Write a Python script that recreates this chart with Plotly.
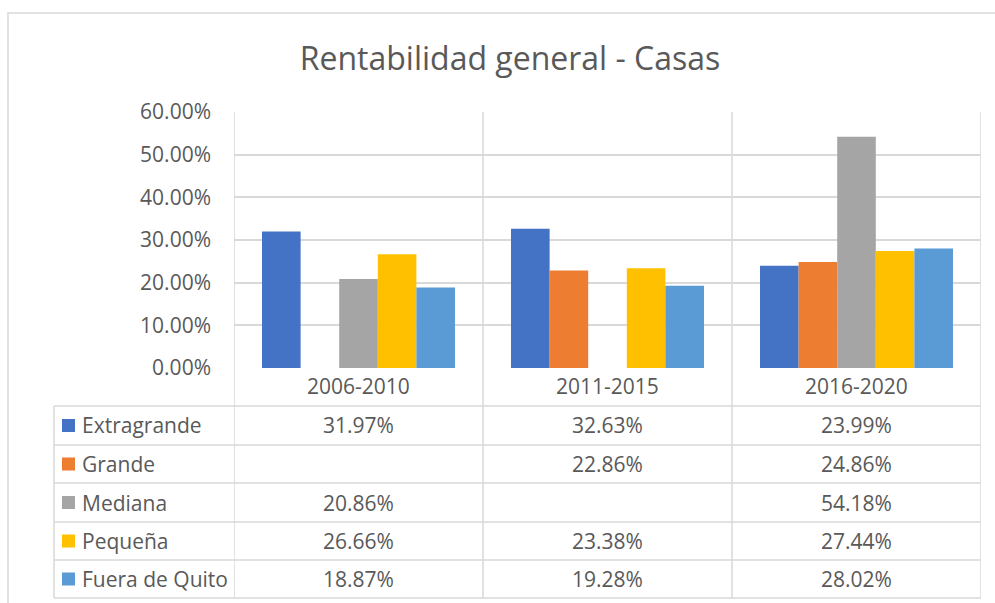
import plotly.graph_objects as go

W, H = 995, 603

categories = ["2006-2010", "2011-2015", "2016-2020"]
series_names = ["Extragrande", "Grande", "Mediana", "Pequeña", "Fuera de Quito"]
extragrande = [31.97, 32.63, 23.99]
grande = [None, 22.86, 24.86]
mediana = [20.86, None, 54.18]
pequena = [26.66, 23.38, 27.44]
fuera_quito = [18.87, 19.28, 28.02]
series_values = [extragrande, grande, mediana, pequena, fuera_quito]
colors = ["#4472C4", "#ED7D31", "#A5A5A5", "#FFC000", "#5B9BD5"]
y_ticks = [0, 10, 20, 30, 40, 50, 60]

FONT = "Open Sans"
TXT = "#595959"
GRID = "#D9D9D9"
FS = 21

def px(x):
    return x / W

def py(y):
    return 1 - y / H

# layout geometry (pixels)
PL, PR, PT, PB = 234, 981, 112, 368
TL = 54
row_lines = [406, 445, 483, 522, 560, 598]

fig = go.Figure()
for name, vals, col in zip(series_names, series_values, colors):
    fig.add_trace(go.Bar(x=categories, y=vals, name=name, marker_color=col,
                         marker_line_width=0, showlegend=False))

shapes = []
line = dict(color=GRID, width=1.5)
# outer chart border
shapes.append(dict(type="rect", xref="paper", yref="paper", x0=px(8), x1=px(1100),
                   y0=py(700), y1=py(13), line=dict(color=GRID, width=1.5), layer="below"))
# vertical lines of plot / table
for xv in [-0.5, 0.5, 1.5, 2.5]:
    shapes.append(dict(type="line", xref="x", yref="paper", x0=xv, x1=xv,
                       y0=py(PT), y1=py(row_lines[-1]), line=line, layer="below"))
# table left column vertical
shapes.append(dict(type="line", xref="paper", yref="paper", x0=px(TL), x1=px(TL),
                   y0=py(row_lines[0]), y1=py(row_lines[-1]), line=line))
# table horizontal lines
for r in row_lines:
    shapes.append(dict(type="line", xref="paper", yref="paper", x0=px(TL), x1=px(PR),
                       y0=py(r), y1=py(r), line=line))

annotations = []
for i, (name, vals, col) in enumerate(zip(series_names, series_values, colors)):
    yc = (row_lines[i] + row_lines[i + 1]) / 2
    shapes.append(dict(type="rect", xref="paper", yref="paper", x0=px(62), x1=px(75),
                       y0=py(yc + 6.5), y1=py(yc - 6.5), fillcolor=col, line=dict(width=0)))
    annotations.append(dict(xref="paper", yref="paper", x=px(80), y=py(yc), text=name,
                            showarrow=False, xanchor="left", yanchor="middle",
                            font=dict(family=FONT, size=FS, color=TXT)))
    for c, v in zip(categories, vals):
        if v is None:
            continue
        annotations.append(dict(xref="x", yref="paper", x=c, y=py(yc), text=f"{v:.2f}%",
                                showarrow=False, xanchor="center", yanchor="middle",
                                font=dict(family=FONT, size=FS, color=TXT)))
# header category labels
for c in categories:
    annotations.append(dict(xref="x", yref="paper", x=c, y=py(386), text=c,
                            showarrow=False, xanchor="center", yanchor="middle",
                            font=dict(family=FONT, size=FS, color=TXT)))

fig.update_layout(
    template="none",
    width=W, height=H, autosize=False,
    margin=dict(l=0, r=0, t=0, b=0, pad=0, autoexpand=False),
    paper_bgcolor="white", plot_bgcolor="white",
    title=dict(text="Rentabilidad general - Casas", x=0.5126, xanchor="center",
               y=py(59), yanchor="middle", automargin=False,
               font=dict(family=FONT, size=32, color=TXT)),
    barmode="group", bargap=0.225, bargroupgap=0,
    xaxis=dict(domain=[px(PL), px(PR)], range=[-0.5, 2.5], type="category",
               showticklabels=False, showgrid=False, zeroline=False, showline=False,
               automargin=False, fixedrange=True),
    yaxis=dict(domain=[py(PB), py(PT)], range=[0, 60], tickvals=y_ticks,
               ticktext=[f"{t:.2f}%" for t in y_ticks],
               showgrid=True, gridcolor=GRID, gridwidth=1.5, zeroline=False,
               showline=False, ticks="", ticklabelstandoff=22, automargin=False,
               tickfont=dict(family=FONT, size=FS, color=TXT)),
    shapes=shapes,
    annotations=annotations,
    font=dict(family=FONT, color=TXT),
)

fig.write_html("out.html")
